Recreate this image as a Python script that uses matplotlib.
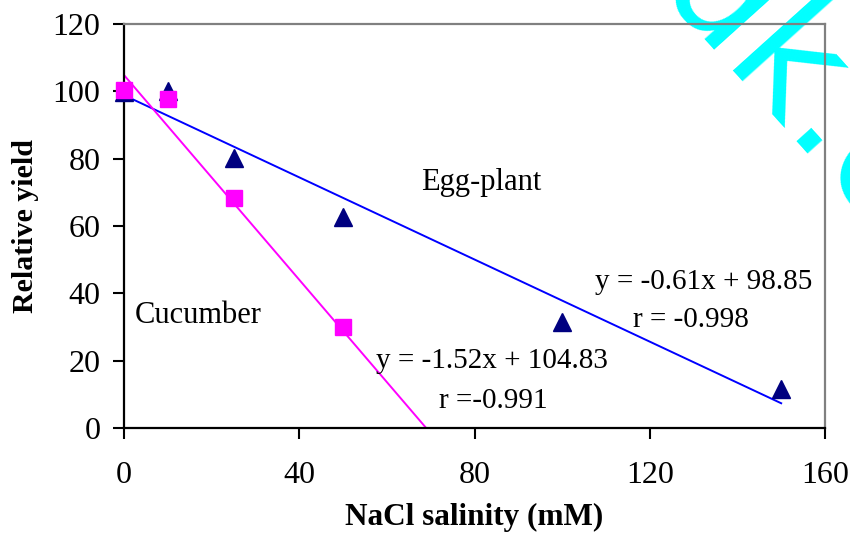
import numpy as np
import matplotlib.pyplot as plt

# data
salinity_egg = [0, 10, 25, 50, 100, 150]
yield_egg = [99.8, 100.0, 80.2, 62.8, 31.4, 11.6]
salinity_cuc = [0, 10, 25, 50]
yield_cuc = [100.5, 97.7, 68.3, 30.0]

# trendline coefficients (slope, intercept) and correlation as printed
fit_egg = (-0.61, 98.85)
fit_cuc = (-1.52, 104.83)
r_egg = -0.998
r_cuc = -0.991

x_ticks = [0, 40, 80, 120, 160]
y_ticks = [0, 20, 40, 60, 80, 100, 120]


def main():
    plt.rcParams['font.family'] = ['Liberation Serif', 'DejaVu Serif']
    fig = plt.figure(figsize=(8.5, 5.34), dpi=100)
    ax = fig.add_axes([124/850, 1 - 428/534, 701/850, 404/534])
    ax.patch.set_alpha(0)

    # watermark behind the plot
    fig.text(652/850, 543/534, 'dk.co', color='#00ffff', fontsize=115,
             family='DejaVu Sans', rotation=-48, rotation_mode='anchor',
             ha='left', va='baseline', zorder=-1)

    # trendlines
    xe = np.array([0, 150])
    ax.plot(xe, fit_egg[0]*xe + fit_egg[1], color='#0000ff', lw=1.4, zorder=2)
    xc = np.array([0, 70])
    ax.plot(xc, fit_cuc[0]*xc + fit_cuc[1], color='#ff00ff', lw=1.4, zorder=2)

    # measured points
    ax.plot(salinity_egg, yield_egg, ls='none', marker='^', ms=13,
            color='#000080', clip_on=False, zorder=3)
    ax.plot(salinity_cuc, yield_cuc, ls='none', marker='s', ms=11,
            color='#ff00ff', clip_on=False, zorder=4)

    ax.set_xlim(0, 160)
    ax.set_ylim(0, 120)
    ax.set_xticks(x_ticks)
    ax.set_yticks(y_ticks)
    ax.tick_params(axis='x', direction='out', length=8, width=1.5, pad=16, labelsize=23)
    ax.tick_params(axis='y', direction='out', length=8, width=1.5, pad=9, labelsize=23)

    for side in ['left', 'bottom']:
        ax.spines[side].set_color('black')
        ax.spines[side].set_linewidth(1.6)
    for side in ['top', 'right']:
        ax.spines[side].set_color('#808080')
        ax.spines[side].set_linewidth(1.6)

    ax.set_xlabel('NaCl salinity (mM)', fontsize=22.5, fontweight='bold', labelpad=9)
    ax.set_ylabel('Relative yield', fontsize=21.5, fontweight='bold', labelpad=10)

    # labels and equations
    ax.text(81.5, 72.8, 'Egg-plant', fontsize=22, ha='center', va='center')
    ax.text(16.9, 33.3, 'Cucumber', fontsize=22, ha='center', va='center')
    ax.text(132.3, 43.4, f'y = {fit_egg[0]:.2f}x + {fit_egg[1]:.2f}',
            fontsize=21, ha='center', va='center')
    ax.text(129.5, 32.0, f'r = {r_egg:.3f}', fontsize=21, ha='center', va='center')
    ax.text(84.0, 19.9, f'y = {fit_cuc[0]:.2f}x + {fit_cuc[1]:.2f}',
            fontsize=21, ha='center', va='center')
    ax.text(84.4, 8.0, f'r ={r_cuc:.3f}', fontsize=21, ha='center', va='center')

    fig.savefig('out.png', dpi=100)


if __name__ == '__main__':
    main()
